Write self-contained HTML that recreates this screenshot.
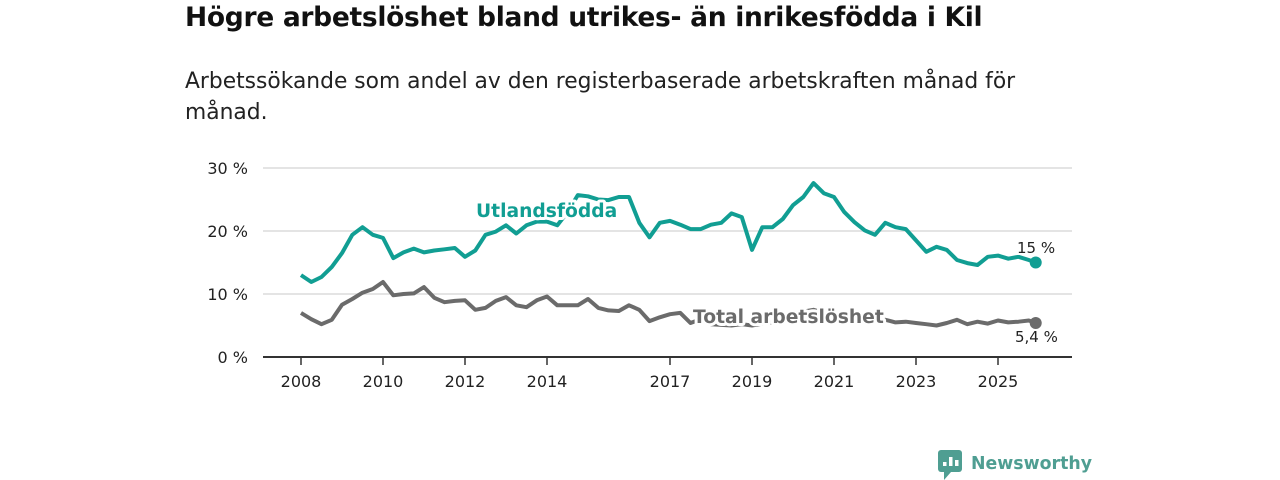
<!DOCTYPE html>
<html><head><meta charset="utf-8">
<style>
body{margin:0;width:1280px;height:480px;background:#fff;font-family:"Liberation Sans","DejaVu Sans",sans-serif;overflow:hidden;position:relative}
h1{position:absolute;left:185px;top:2px;margin:0;font-size:26.5px;font-weight:bold;color:#111;font-family:"DejaVu Sans","Liberation Sans",sans-serif;letter-spacing:-0.3px}
p{position:absolute;left:185px;top:66px;margin:0;font-size:21.8px;line-height:31px;color:#222;width:850px;font-family:"DejaVu Sans","Liberation Sans",sans-serif}
svg{position:absolute;left:0;top:0}
</style></head><body>
<h1>Högre arbetslöshet bland utrikes- än inrikesfödda i Kil</h1>
<p>Arbetssökande som andel av den registerbaserade arbetskraften månad för månad.</p>
<svg id="chart" width="1280" height="480"></svg>
<script>
const years=[2008,2008.25,2008.5,2008.75,2009,2009.25,2009.5,2009.75,2010,2010.25,2010.5,2010.75,2011,2011.25,2011.5,2011.75,2012,2012.25,2012.5,2012.75,2013,2013.25,2013.5,2013.75,2014,2014.25,2014.5,2014.75,2015,2015.25,2015.5,2015.75,2016,2016.25,2016.5,2016.75,2017,2017.25,2017.5,2017.75,2018,2018.25,2018.5,2018.75,2019,2019.25,2019.5,2019.75,2020,2020.25,2020.5,2020.75,2021,2021.25,2021.5,2021.75,2022,2022.25,2022.5,2022.75,2023,2023.25,2023.5,2023.75,2024,2024.25,2024.5,2024.75,2025,2025.25,2025.5,2025.75,2025.92];
const foreignBorn=[13.0,11.9,12.7,14.3,16.5,19.4,20.6,19.4,18.9,15.7,16.6,17.2,16.6,16.9,17.1,17.3,15.9,16.9,19.4,19.9,20.9,19.6,20.9,21.5,21.5,20.9,23,25.7,25.5,25.0,24.9,25.4,25.4,21.3,19.0,21.3,21.6,21.0,20.3,20.3,21.0,21.3,22.8,22.2,17.0,20.6,20.6,21.9,24.1,25.4,27.6,26.0,25.4,23.0,21.4,20.1,19.4,21.3,20.6,20.3,18.5,16.7,17.5,17.0,15.4,14.9,14.6,15.9,16.1,15.6,15.9,15.4,15.0];
const total=[7.0,6.0,5.2,5.9,8.3,9.2,10.2,10.8,11.9,9.8,10.0,10.1,11.1,9.4,8.7,8.9,9.0,7.5,7.8,8.9,9.5,8.2,7.9,9.0,9.6,8.2,8.2,8.2,9.2,7.8,7.4,7.3,8.2,7.5,5.7,6.3,6.8,7.0,5.4,6.0,5.2,5.1,5.0,5.2,5.0,5.3,5.5,6.0,6.5,7.2,7.5,7.0,6.5,6.0,5.8,5.6,5.5,5.9,5.5,5.6,5.4,5.2,5.0,5.4,5.9,5.2,5.6,5.3,5.8,5.5,5.6,5.8,5.4];
const yTicks=[0,10,20,30];
const xTicks=[2008,2010,2012,2014,2017,2019,2021,2023,2025];
const endLabels=["15 %","5,4 %"];
const NS="http://www.w3.org/2000/svg";
const svg=document.getElementById('chart');
const X=y=>301+(y-2008)*41;
const Y=v=>357-v*6.3;
function mk(t,a,p){const e=document.createElementNS(NS,t);for(const k in a)e.setAttribute(k,a[k]);(p||svg).appendChild(e);return e;}
yTicks.forEach(v=>{
 const g=mk('line',{x1:263,x2:1072,y1:Y(v),y2:Y(v),stroke:v===0?'#333':'#dcdcdc','stroke-width':v===0?2:1.5});
 
 
 const t=mk('text',{x:248,y:Y(v)+6,'text-anchor':'end','font-size':16,fill:'#222','font-family':'DejaVu Sans, Liberation Sans, sans-serif'});
 t.textContent=v+' %';
 
 
});
xTicks.forEach(y=>{
 const l=mk('line',{x1:X(y),x2:X(y),y1:357,y2:365,stroke:'#333','stroke-width':1.5});
 
 
 const t=mk('text',{x:X(y),y:387,'text-anchor':'middle','font-size':16,fill:'#222','font-family':'DejaVu Sans, Liberation Sans, sans-serif'});
 t.textContent=y;
 
 
});
function line(vals,color,name){
 const d=vals.map((v,i)=>(i?'L':'M')+X(years[i]).toFixed(1)+','+Y(v).toFixed(1)).join('');
 const p=mk('path',{d:d,fill:'none',stroke:color,'stroke-width':4,'stroke-linejoin':'round'});
 
 
 const n=vals.length-1;
 const c=mk('circle',{cx:X(years[n]),cy:Y(vals[n]),r:6,fill:color});
 
 
}
line(total,'#6b6b6b','total-line');
line(foreignBorn,'#119e93','foreign-born-line');
function lbl(txt,x,y,color,name,bold,size){
 const t=mk('text',{x:x,y:y,fill:color,'font-size':size,'font-weight':bold?'bold':'normal',stroke:'#fff','stroke-width':bold?6:4,'paint-order':'stroke','stroke-linejoin':'round','font-family':'DejaVu Sans, Liberation Sans, sans-serif'});
 t.textContent=txt;
 
 
}
lbl('Utlandsfödda',476,217,'#119e93','foreign-born-label',true,18.7);
lbl('Total arbetslöshet',693,323,'#6b6b6b','total-label',true,18.7);
lbl(endLabels[0],1017,253,'#222','foreign-born-end-value',false,15);
lbl(endLabels[1],1015,342,'#222','total-end-value',false,15);
const lg=mk('g',{});


mk('rect',{x:938,y:450,width:24,height:22,rx:3,fill:'#4f9e92'},lg);
mk('path',{d:'M944,472 L944,480 L951,472 Z',fill:'#4f9e92'},lg);
[[943,462,4],[949,457,9],[955,460,6]].forEach(b=>mk('rect',{x:b[0],y:b[1],width:3.5,height:b[2],fill:'#fff'},lg));
const lt=mk('text',{x:971,y:469,'font-size':18,'font-weight':'bold',fill:'#4f9e92','font-family':'DejaVu Sans, Liberation Sans, sans-serif',textLength:121,lengthAdjust:'spacingAndGlyphs'},lg);
lt.textContent='Newsworthy';
</script>
</body></html>
